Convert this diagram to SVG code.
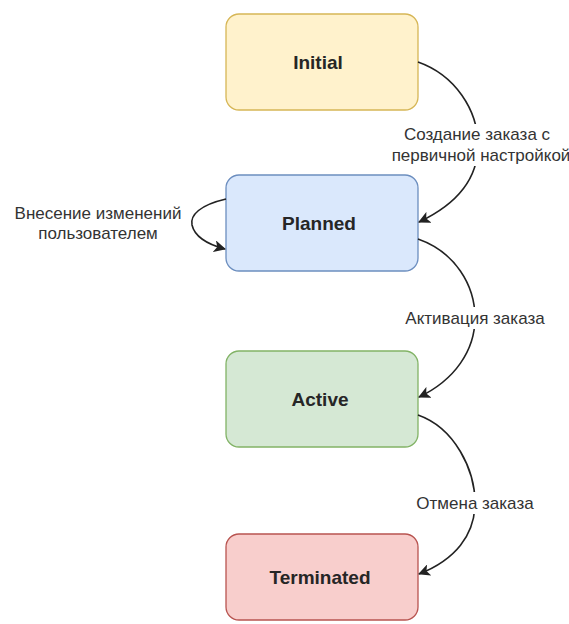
<svg xmlns="http://www.w3.org/2000/svg" width="569" height="624" viewBox="0 0 569 624">
  <style>
    .node rect { stroke-width: 1.3; }
    .node text { font-family: "Liberation Sans", Arial, sans-serif; font-size: 19px; font-weight: bold; fill: #262626; text-anchor: middle; dominant-baseline: central; }
    .edge { fill: none; stroke: #222; stroke-width: 1.6; marker-end: url(#arrow); }
    .lbl { font-family: "Liberation Sans", Arial, sans-serif; font-size: 17px; fill: #333; text-anchor: middle; dominant-baseline: central; }
    .lblbg { fill: #fff; }
  </style>
  <defs>
    <marker id="arrow" viewBox="0 0 12 12" refX="11" refY="6" markerWidth="12" markerHeight="12" markerUnits="userSpaceOnUse" orient="auto">
      <path d="M0,0 L12,6 L0,12 L3,6 Z" fill="#222"/>
    </marker>
  </defs>
  <rect width="569" height="624" fill="#fff"/>

  <g id="initial" class="node">
    <rect x="226" y="14" width="192" height="96" rx="13" fill="#fff2cc" stroke="#d6b656"/>
    <text x="318" y="62">Initial</text>
  </g>
  <g id="planned" class="node">
    <rect x="226" y="175" width="192" height="96" rx="13" fill="#dae8fc" stroke="#6c8ebf"/>
    <text x="319" y="223">Planned</text>
  </g>
  <g id="active" class="node">
    <rect x="226" y="351" width="192" height="96" rx="13" fill="#d5e8d4" stroke="#82b366"/>
    <text x="320" y="399">Active</text>
  </g>
  <g id="terminated" class="node">
    <rect x="226" y="534" width="192" height="86" rx="13" fill="#f8cecc" stroke="#b85450"/>
    <text x="320" y="577">Terminated</text>
  </g>

  <g id="connectors">
    <path class="edge" d="M418,62 C455,75 478,110 478,145 C478,180 455,205 419,222"/>
    <path class="edge" d="M226,199 C200,205 190,215 192,225 C195,238 210,245 225,249"/>
    <path class="edge" d="M418,239 C455,252 475,285 475,318 C475,350 455,380 419,397"/>
    <path class="edge" d="M418,415 C455,428 475,470 475,503 C475,535 455,560 419,574"/>

    <rect class="lblbg" x="396" y="124" width="173" height="42"/>
    <text class="lbl" x="477" y="134">Создание заказа с</text>
    <text class="lbl" x="481" y="155">первичной настройкой</text>

    <rect class="lblbg" x="8" y="203" width="182" height="40"/>
    <text class="lbl" x="98" y="213">Внесение изменений</text>
    <text class="lbl" x="98" y="233">пользователем</text>

    <rect class="lblbg" x="400" y="307" width="150" height="22"/>
    <text class="lbl" x="475" y="318">Активация заказа</text>

    <rect class="lblbg" x="412" y="492" width="126" height="22"/>
    <text class="lbl" x="475" y="503">Отмена заказа</text>
  </g>
</svg>
